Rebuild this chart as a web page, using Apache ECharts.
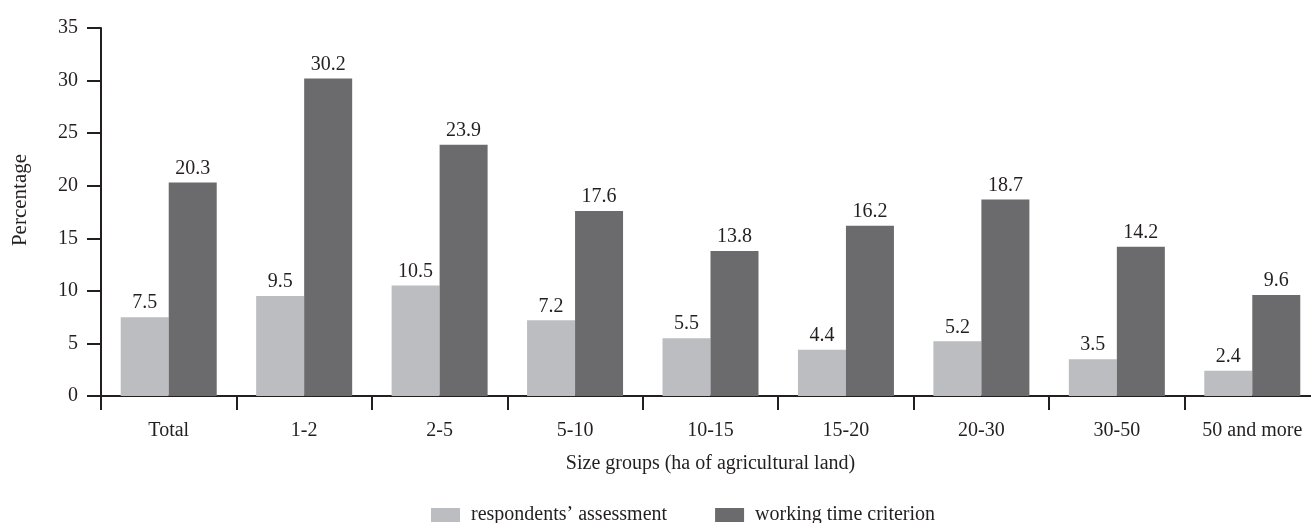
<!DOCTYPE html>
<html>
<head>
<meta charset="utf-8">
<script src="https://cdn.jsdelivr.net/npm/echarts@6/dist/echarts.min.js"></script>
<style>html,body{margin:0;padding:0;background:#fff}#c{width:1311px;height:523px}</style>
</head>
<body>
<div id="c"></div>
<script>
const categories = ['Total', '1-2', '2-5', '5-10', '10-15', '15-20', '20-30', '30-50', '50 and more'];
const respondents = [7.5, 9.5, 10.5, 7.2, 5.5, 4.4, 5.2, 3.5, 2.4];
const workingTime = [20.3, 30.2, 23.9, 17.6, 13.8, 16.2, 18.7, 14.2, 9.6];
const seriesNames = ['respondents\u2019 assessment', 'working time criterion'];
const yTicks = { min: 0, max: 35, interval: 5 };

const ink = '#231f20';
const font = 'Liberation Serif';
const chart = echarts.init(document.getElementById('c'));
chart.setOption({
  animation: false,
  textStyle: { fontFamily: font, color: ink },
  grid: { left: 101, top: 28, height: 368, width: 1219, containLabel: false, outerBoundsMode: 'none' },
  legend: {
    left: 426, top: 500, itemWidth: 29, itemHeight: 14, itemGap: 48,
    icon: 'rect',
    textStyle: { fontFamily: font, fontSize: 20, color: ink, padding: [0, 0, 0, 6] },
    data: seriesNames
  },
  xAxis: {
    type: 'category', data: categories,
    name: 'Size groups (ha of agricultural land)', nameLocation: 'middle', nameGap: 58,
    nameTextStyle: { fontFamily: font, fontSize: 20, color: ink },
    axisLine: { lineStyle: { color: ink, width: 2 } },
    axisTick: { show: true, length: 14, lineStyle: { color: ink, width: 2 } },
    axisLabel: { fontFamily: font, fontSize: 20, color: ink, margin: 25, interval: 0 },
    splitLine: { show: false }
  },
  yAxis: {
    type: 'value', min: yTicks.min, max: yTicks.max, interval: yTicks.interval,
    name: 'Percentage', nameLocation: 'middle', nameGap: 70, nameRotate: 90,
    nameTextStyle: { fontFamily: font, fontSize: 21, color: ink, padding: [0, 0, 0, 24] },
    axisLine: { show: true, lineStyle: { color: ink, width: 2 } },
    axisTick: { show: true, length: 14, lineStyle: { color: ink, width: 2 } },
    axisLabel: { fontFamily: font, fontSize: 20, color: ink, margin: 23 },
    splitLine: { show: false }
  },
  series: [
    {
      name: seriesNames[0], type: 'bar', data: respondents, barWidth: 48, barGap: '0%',
      itemStyle: { color: '#bcbdc0' },
      label: { show: true, position: 'top', distance: 4, fontFamily: font, fontSize: 20, color: ink }
    },
    {
      name: seriesNames[1], type: 'bar', data: workingTime, barWidth: 48, barGap: '0%',
      itemStyle: { color: '#6b6b6d' },
      label: { show: true, position: 'top', distance: 4, fontFamily: font, fontSize: 20, color: ink }
    }
  ]
});
</script>
</body>
</html>
